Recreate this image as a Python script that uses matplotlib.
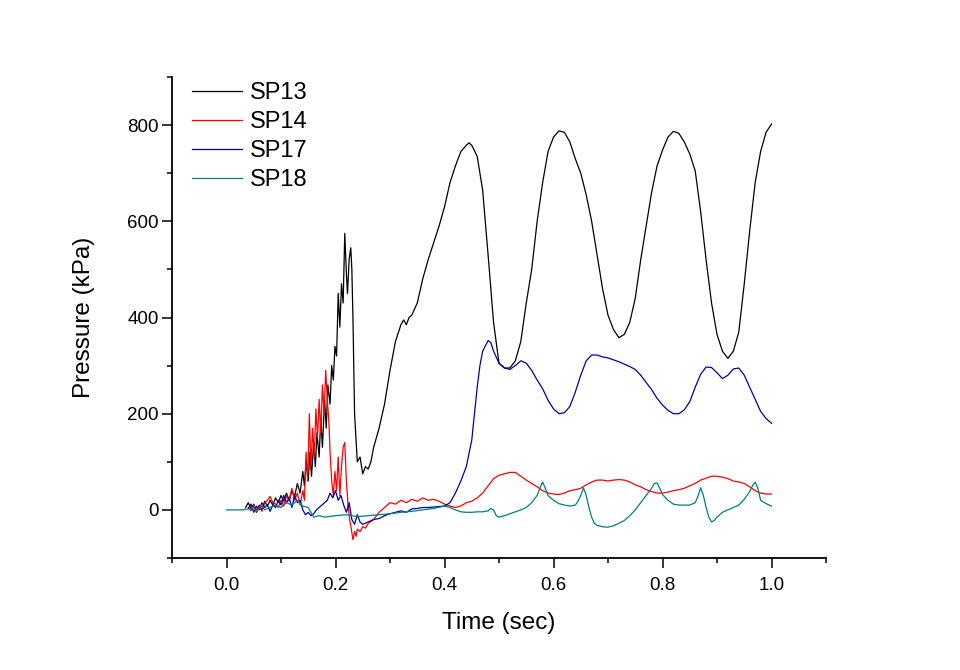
import matplotlib
matplotlib.use("Agg")
import matplotlib.pyplot as plt
from matplotlib.ticker import MultipleLocator

# ---------------- data ----------------
sp13_t = [0.035,0.04,0.045,0.05,0.055,0.06,0.065,0.07,0.075,0.08,0.085,0.09,0.095,0.10,0.105,0.11,0.115,0.12,0.125,0.13,
          0.135,0.14,0.143,0.146,0.15,0.153,0.156,0.16,0.163,0.166,0.17,0.173,0.176,0.18,0.183,0.186,0.19,0.193,0.196,0.199,
          0.202,0.205,0.208,0.211,0.214,0.217,0.22,0.222,0.225,0.228,0.23,0.232,0.235,0.24,0.245,0.25,0.255,0.26,0.265,0.27,
          0.28,0.29,0.30,0.31,0.32,0.325,0.33,0.335,0.34,0.35,0.36,0.37,0.38,0.39,0.40,0.41,0.42,0.43,0.44,0.445,0.45,
          0.46,0.47,0.48,0.49,0.50,0.51,0.52,0.53,0.54,0.55,0.56,0.57,0.58,0.59,0.60,0.61,0.62,0.63,0.64,0.65,
          0.66,0.67,0.68,0.69,0.70,0.71,0.72,0.73,0.74,0.75,0.76,0.77,0.78,0.79,0.80,0.81,0.82,0.83,0.84,0.85,
          0.86,0.87,0.88,0.89,0.90,0.91,0.92,0.93,0.94,0.95,0.96,0.97,0.98,0.99,1.00]
sp13_p = [5,15,2,12,-5,10,0,18,8,20,10,25,15,30,18,35,20,40,28,55,
          35,80,50,100,60,120,70,140,90,160,110,190,130,230,170,260,220,300,270,340,
          320,450,380,470,430,575,490,450,520,545,500,400,200,100,110,75,90,85,100,130,
          170,220,290,350,385,395,385,400,405,430,480,520,555,590,630,680,715,745,758,763,758,
          735,665,530,390,305,295,295,310,350,430,500,600,680,745,775,788,785,765,730,700,
          655,600,530,460,405,375,358,365,390,440,520,590,660,715,748,775,787,783,765,740,
          705,620,520,430,365,330,315,330,370,470,580,680,745,785,802]

sp14_t = [0.04,0.045,0.05,0.055,0.06,0.065,0.07,0.075,0.08,0.085,0.09,0.095,0.10,0.105,0.11,0.115,0.12,0.125,0.13,0.135,
          0.14,0.143,0.146,0.149,0.152,0.155,0.158,0.161,0.164,0.167,0.17,0.173,0.176,0.179,0.182,0.185,0.188,0.19,0.193,0.196,
          0.199,0.202,0.205,0.208,0.211,0.214,0.217,0.22,0.223,0.226,0.229,0.232,0.235,0.238,0.24,0.245,0.25,0.255,0.26,0.27,
          0.28,0.29,0.30,0.31,0.32,0.33,0.34,0.35,0.36,0.37,0.38,0.39,0.40,0.41,0.42,0.43,0.44,0.45,0.46,0.47,
          0.48,0.49,0.50,0.51,0.52,0.53,0.54,0.55,0.56,0.57,0.58,0.59,0.60,0.61,0.62,0.63,0.64,0.65,0.66,0.67,
          0.68,0.69,0.70,0.71,0.72,0.73,0.74,0.75,0.76,0.77,0.78,0.79,0.80,0.81,0.82,0.83,0.84,0.85,0.86,0.87,
          0.88,0.89,0.90,0.91,0.92,0.93,0.94,0.95,0.96,0.97,0.98,0.99,1.00]
sp14_p = [5,-2,10,0,8,-3,15,20,28,15,12,5,20,8,30,18,45,20,35,10,
          40,20,120,60,200,90,170,110,210,150,230,160,260,200,290,230,180,120,60,30,
          80,40,110,30,90,130,140,60,10,-20,-40,-62,-45,-55,-40,-45,-35,-38,-28,-20,
          -5,5,15,12,20,15,22,18,25,20,22,18,12,8,5,8,15,18,25,35,
          50,65,72,75,78,78,70,62,55,48,40,35,33,32,35,40,42,45,52,58,
          62,62,60,62,63,62,58,52,48,42,38,35,35,37,40,42,45,50,55,62,
          66,70,70,68,65,60,58,55,48,40,35,33,33]

sp17_t = [0.04,0.045,0.05,0.055,0.06,0.065,0.07,0.075,0.08,0.085,0.09,0.095,0.10,0.105,0.11,0.115,0.12,0.125,0.13,0.135,
          0.14,0.145,0.15,0.155,0.16,0.165,0.17,0.175,0.18,0.185,0.19,0.195,0.20,0.205,0.21,0.215,0.22,0.225,0.23,0.235,
          0.24,0.245,0.25,0.26,0.27,0.28,0.29,0.30,0.31,0.32,0.33,0.34,0.35,0.36,0.37,0.38,0.39,0.40,0.41,0.42,
          0.43,0.44,0.45,0.455,0.46,0.465,0.47,0.48,0.485,0.49,0.50,0.51,0.52,0.53,0.54,0.55,0.56,0.57,0.58,0.59,
          0.60,0.61,0.62,0.63,0.64,0.65,0.66,0.67,0.68,0.69,0.70,0.71,0.72,0.73,0.74,0.75,0.76,0.77,0.78,0.79,
          0.80,0.81,0.82,0.83,0.84,0.85,0.86,0.87,0.88,0.89,0.90,0.91,0.92,0.93,0.94,0.95,0.96,0.97,0.98,0.99,1.00]
sp17_p = [3,12,-5,8,0,15,5,10,-3,10,5,20,10,30,15,25,5,30,15,20,
          0,-10,-5,-12,-8,0,5,10,15,20,35,25,40,20,30,10,-5,15,-20,-30,
          -10,-25,-30,-25,-20,-18,-12,-8,-5,-2,-5,2,3,5,5,6,7,8,15,35,
          60,90,145,200,255,300,330,352,348,330,305,295,292,300,310,305,290,270,252,228,
          210,200,202,215,245,280,310,322,322,318,316,312,308,303,298,292,280,265,250,232,
          218,207,200,200,208,225,255,282,297,296,285,273,280,293,295,280,255,230,205,190,180]

sp18_t = [0.0,0.03,0.04,0.05,0.055,0.06,0.065,0.07,0.08,0.09,0.10,0.11,0.12,0.13,0.14,0.15,0.155,0.16,0.17,0.18,
          0.20,0.22,0.24,0.26,0.28,0.30,0.32,0.34,0.36,0.38,0.40,0.41,0.42,0.43,0.44,0.45,0.46,0.47,0.48,0.485,
          0.49,0.495,0.50,0.51,0.52,0.53,0.54,0.55,0.56,0.57,0.575,0.58,0.585,0.59,0.60,0.61,0.62,0.63,0.64,0.645,
          0.65,0.655,0.66,0.665,0.67,0.675,0.68,0.69,0.70,0.71,0.72,0.73,0.74,0.75,0.76,0.77,0.78,0.785,0.79,0.795,
          0.80,0.81,0.82,0.83,0.84,0.85,0.86,0.865,0.87,0.875,0.88,0.885,0.89,0.895,0.90,0.91,0.92,0.93,0.94,0.95,
          0.96,0.965,0.97,0.975,0.98,0.99,1.00]
sp18_p = [0,0,2,5,-3,3,8,0,5,10,5,15,10,20,8,5,-5,-15,-12,-15,
          -12,-10,-14,-12,-10,-8,-5,-3,0,3,8,5,0,-4,-5,-5,-4,-4,-2,3,
          0,-12,-15,-12,-8,-4,0,5,15,30,45,58,45,30,20,13,10,8,10,18,
          30,46,30,5,-15,-28,-32,-35,-36,-33,-28,-22,-12,0,15,30,45,55,56,45,
          32,20,12,10,10,10,15,28,46,30,5,-15,-25,-22,-15,-5,0,5,10,22,
          38,50,58,45,20,13,8]

series_labels = ["SP13", "SP14", "SP17", "SP18"]
x_ticks = [0.0, 0.2, 0.4, 0.6, 0.8, 1.0]
y_ticks = [0, 200, 400, 600, 800]

# ---------------- figure ----------------
plt.rcParams['font.family'] = ['Liberation Sans', 'DejaVu Sans']
fig = plt.figure(figsize=(9.6, 6.7), dpi=100)
ax = fig.add_axes([172/960, 1 - 558/670, (826-172)/960, (558-77)/670])

colors = ["#000000", "#ff0000", "#0000aa", "#008080"]
data = [(sp13_t, sp13_p), (sp14_t, sp14_p), (sp17_t, sp17_p), (sp18_t, sp18_p)]
for (t, p), c, lab in zip(data, colors, series_labels):
    ax.plot(t, p, color=c, lw=0.9, label=lab)

ax.set_xlim(-0.1, 1.1)
ax.set_ylim(-100, 900)
ax.set_xticks(x_ticks)
ax.set_xticklabels([f"{v:.1f}" for v in x_ticks], fontsize=13.5)
ax.set_yticks(y_ticks)
ax.set_yticklabels([str(v) for v in y_ticks], fontsize=13.5)
ax.xaxis.set_minor_locator(MultipleLocator(0.1))
ax.yaxis.set_minor_locator(MultipleLocator(100))
ax.tick_params(which='major', direction='out', length=7, width=1.1)
ax.tick_params(which='minor', direction='out', length=3.5, width=1.1)
ax.tick_params(axis='x', which='major', pad=7)
ax.tick_params(axis='y', which='major', pad=2.5)
for s in ['top', 'right']:
    ax.spines[s].set_visible(False)
for s in ['left', 'bottom']:
    ax.spines[s].set_linewidth(1.3)

ax.set_xlabel("Time (sec)", fontsize=17.5, labelpad=13)
ax.set_ylabel("Pressure (kPa)", fontsize=17.5, labelpad=23)

leg = ax.legend(loc='upper left', bbox_to_anchor=(0.03, 0.99), frameon=False,
                fontsize=17, handlelength=2.15, handletextpad=0.3,
                labelspacing=0.3, borderaxespad=0, borderpad=0)

fig.savefig("out.png", dpi=100)
